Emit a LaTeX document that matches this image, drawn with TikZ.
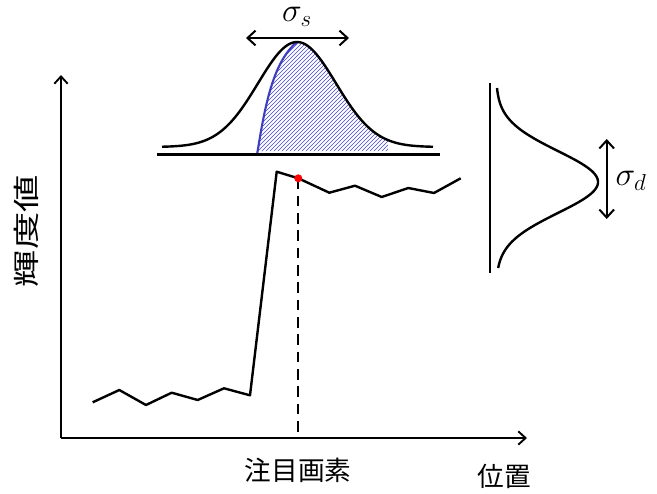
\documentclass[tikz,border=0pt]{standalone}
\usepackage{fontspec}
\usetikzlibrary{arrows.meta,patterns}
\newfontfamily\jp{Noto Sans CJK JP}
\definecolor{hatchblue}{RGB}{70,70,210}
\begin{document}
\begin{tikzpicture}[x=0.75pt,y=-0.75pt,
  axis/.style={line width=1.5pt,-{Straight Barb[length=5.5pt,width=10pt,line width=1.4pt]}},
  curve/.style={line width=1.8pt,line join=round},
  sig/.style={line width=1.8pt,line join=round},
  dbl/.style={line width=1.6pt,{Straight Barb[length=6pt,width=11pt,line width=1.5pt]}-{Straight Barb[length=6pt,width=11pt,line width=1.5pt]}},
  jplabel/.style={font=\jp\fontsize{20pt}{24pt}\selectfont,inner sep=0pt},
  siglabel/.style={font=\fontsize{24pt}{28pt}\selectfont,inner sep=0pt}]
\useasboundingbox (0,0) rectangle (657,493);
% axes
\coordinate (O) at (61,438);
\coordinate (Ytop) at (61,75);
\coordinate (Xend) at (527,438);
\draw[axis] (O) -- (Ytop);
\draw[axis] (O) -- (Xend);
\node[jplabel,rotate=90] (ylab) at (26,231) {\scalebox{1.4}[1]{輝度値}};
\node[jplabel] (xlab) at (298,470) {注目画素};
\node[jplabel] (poslab) at (504,476) {位置};
% signal
\draw[sig] (92.7,402.3) -- (119.3,390) -- (146,405) -- (171.7,392.7) -- (197.7,400) -- (224,388.3) -- (250,395.3) -- (276.7,171.7) -- (298.3,178.3) -- (329.3,192.7) -- (355,185.7) -- (381.7,197) -- (408.3,188) -- (434,193) -- (460.7,178.3);
\coordinate (P) at (298.3,178.3);
\coordinate (Pb) at (298.3,438);
\draw[line width=1.6pt,dash pattern=on 8pt off 5pt] (P) -- (Pb);
\fill[red] (P) circle[radius=4];
% top gaussian: hatched part
\fill[pattern=north east lines,pattern color=hatchblue]
  (258,151) .. controls (265,105) and (273,62) .. (297,42)
  -- plot[domain=297:388,samples=60] (\x,{147-105*exp(-((\x-297)/39)*((\x-297)/39)/2)})
  -- (388,151) -- cycle;
\draw[line width=1.6pt,color=hatchblue!90!black] (257,155) .. controls (265,105) and (273,62) .. (297,42);
\draw[curve] plot[domain=162:433,samples=120] (\x,{147-105*exp(-((\x-297)/39)*((\x-297)/39)/2)});
\coordinate (BL) at (157,154.3);
\coordinate (BR) at (440,154.3);
\draw[line width=1.8pt] (BL) -- (BR);
\coordinate (SL) at (246,38);
\coordinate (SR) at (349,38);
\draw[dbl] (SL) -- (SR);
\node[siglabel] (sigs) at (297,17) {$\sigma_s$};
% right gaussian
\coordinate (VT) at (490,83);
\coordinate (VB) at (490,273);
\draw[line width=1.8pt] (VT) -- (VB);
\draw[curve] plot[domain=88:268,samples=120] ({496+102*exp(-((\x-182)/31)*((\x-182)/31)/2)},\x);
\coordinate (DT) at (606.7,139);
\coordinate (DB) at (606.7,219);
\draw[dbl] (DT) -- (DB);
\node[siglabel] (sigd) at (631,181) {$\sigma_d$};
\end{tikzpicture}
\end{document}
